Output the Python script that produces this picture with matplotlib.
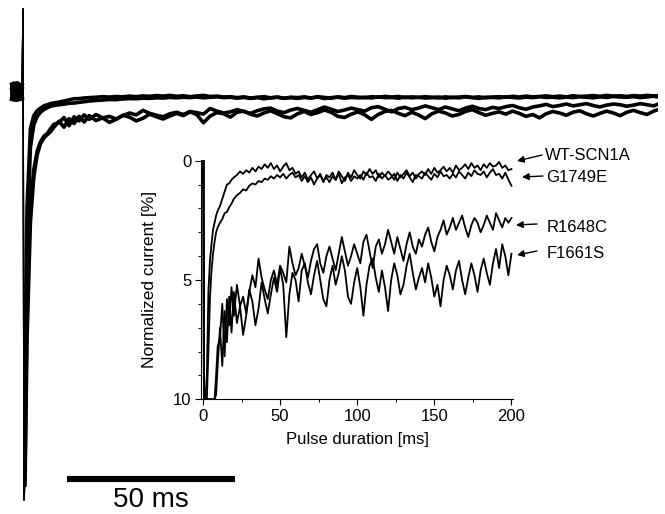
import numpy as np
import matplotlib
matplotlib.use("Agg")
import matplotlib.pyplot as plt
from matplotlib.ticker import MultipleLocator
from matplotlib.patches import FancyArrowPatch

plt.rcParams['font.family'] = ['Liberation Sans', 'DejaVu Sans']

# ---------------- data ----------------
# sample times (ms): pre-pulse, transient, then every 2 ms to the end of the pulse
t_early = [-3, -2.5, -2, -1.5, -1, -0.5, 0, 0.3, 0.6, 0.9, 1.5, 2.5, 3.5, 4.5, 5.5,
           6.5, 7.5, 8.5, 9.5, 11, 12.5, 14, 15.5, 17, 18.5, 20]
t_late = np.arange(22, 200.1, 2)
time_ms = np.concatenate([t_early, t_late])

trace_names = ["WT-SCN1A", "G1749E", "R1648C", "F1661S"]

# normalized current (% of peak), positive = inward
wt_scn1a = [-2.8, 1.2, -3.0, 0.9, -2.4, 1.1, -1.6, -23, 108, 80, 30, 9, 5.5, 4.2, 3.5,
            2.9, 2.6, 2.3, 2.1, 1.9, 1.6, 1.3, 1.0, 0.95, 0.8, 0.7,
            0.6, 0.45, 0.55, 0.4, 0.5, 0.3, 0.45, 0.25, 0.35, 0.15,
            0.3, 0.1, 0.35, 0.2, 0.45, 0.25, 0.1, 0.4, 0.3, 0.55,
            0.45, 0.7, 0.5, 0.8, 0.6, 0.45, 0.75, 0.55, 0.9, 0.6,
            0.7, 0.5, 0.8, 0.45, 0.65, 0.85, 0.5, 0.7, 0.4, 0.6,
            0.75, 0.45, 0.6, 0.35, 0.55, 0.4, 0.7, 0.5, 0.65, 0.45,
            0.6, 0.8, 0.5, 0.7, 0.55, 0.4, 0.65, 0.5, 0.75, 0.55,
            0.45, 0.6, 0.35, 0.55, 0.3, 0.5, 0.4, 0.25, 0.45, 0.3,
            0.5, 0.2, 0.4, 0.3, 0.15, 0.35, 0.1, 0.3, 0.2, 0.4,
            0.15, 0.3, 0.1, 0.25, 0.2, 0.05, 0.3, 0.2, 0.4, 0.35]

g1749e = [0.8, -3.1, 1.3, -2.6, 0.6, -2.0, 1.0, -22, 108, 90, 40, 14, 8, 5.8, 4.6,
          3.9, 3.4, 3.0, 2.8, 2.6, 2.45, 2.2, 2.15, 1.95, 1.8, 1.6,
          1.45, 1.35, 1.2, 1.25, 1.05, 0.95, 1.0, 0.85, 0.9, 0.75,
          0.8, 0.65, 0.75, 0.6, 0.7, 0.55, 0.75, 0.6, 0.5, 0.7,
          0.6, 0.85, 0.65, 0.9, 0.7, 1.0, 0.75, 0.6, 0.85, 0.7,
          0.9, 0.65, 0.8, 0.55, 0.95, 0.7, 0.6, 0.85, 0.65, 0.75,
          0.6, 0.8, 0.5, 0.7, 0.65, 0.85, 0.55, 0.75, 0.6, 0.8,
          0.7, 0.55, 0.85, 0.6, 0.75, 0.5, 0.7, 0.9, 0.6, 0.65,
          0.75, 0.5, 0.65, 0.8, 0.55, 0.7, 0.45, 0.65, 0.6, 0.75,
          0.55, 0.7, 0.45, 0.6, 0.75, 0.5, 0.65, 0.4, 0.55, 0.6,
          0.45, 0.7, 0.5, 0.35, 0.6, 0.55, 0.75, 0.5, 0.8, 1.05]

r1648c = [-1.5, 1.0, -2.2, 1.3, -3.0, 0.4, -2.6, -22, 108, 100, 55, 30, 20, 15, 12.5,
          11, 10.3, 9.0, 7.8, 7.4, 6.0, 8.2, 5.8, 6.9, 5.3, 6.5,
          5.2, 6.1, 5.7, 6.4, 5.5, 4.8, 5.3, 4.1, 4.9, 5.4,
          5.8, 5.0, 4.6, 5.2, 4.4, 4.7, 5.1, 3.6, 4.3, 4.8,
          4.5, 3.9, 4.4, 4.9, 4.2, 3.7, 3.5, 4.3, 4.7, 4.0,
          3.6, 4.1, 4.6, 3.9, 3.2, 3.8, 4.4, 4.0, 3.5, 3.9,
          4.3, 3.4, 3.1, 3.8, 4.5, 3.6, 3.3, 3.9, 3.5, 2.9,
          3.4, 3.9, 3.2, 3.7, 4.2, 3.5, 3.0, 3.6, 3.9, 3.3,
          3.6, 3.1, 2.8, 3.4, 3.8, 3.2, 2.9, 2.5, 3.1, 2.8,
          2.4, 2.9, 2.6, 2.3, 2.8, 3.2, 2.7, 2.4, 2.6, 3.0,
          2.7, 2.3, 2.6, 2.9, 2.2, 2.5, 2.8, 2.4, 2.6, 2.4]

f1661s = [1.1, -2.7, 0.6, -3.2, 1.2, -1.4, 0.5, -23, 108, 104, 65, 34, 22, 16, 13,
          11.5, 10.6, 9.8, 8.6, 7.0, 8.6, 6.3, 7.6, 5.7, 7.2, 5.5,
          6.8, 6.1, 7.3, 6.5, 5.4, 5.9, 6.9, 6.2, 5.1, 5.8,
          6.4, 5.6, 4.9, 5.5, 4.5, 5.2, 7.4, 5.6, 4.7, 5.0,
          5.9, 4.6, 4.3, 5.1, 5.6, 4.8, 4.2, 5.0, 5.8, 6.1,
          5.0, 4.4, 5.2, 4.7, 4.0, 4.6, 5.7, 6.0, 5.1, 4.5,
          5.3, 6.5, 5.2, 4.4, 4.1, 4.9, 5.5, 4.6, 5.3, 6.3,
          5.0, 4.3, 4.8, 5.6, 5.2, 4.4, 3.9, 4.7, 5.4, 4.9,
          4.5, 5.1, 4.3, 4.9, 5.7, 5.2, 6.1, 5.0, 4.4, 4.8,
          5.4, 4.6, 4.2, 5.0, 5.6, 4.9, 4.3, 4.8, 5.5, 4.6,
          4.1, 4.7, 5.2, 4.3, 3.7, 4.5, 3.5, 4.0, 4.8, 3.9]

traces = [np.array(wt_scn1a), np.array(g1749e), np.array(r1648c), np.array(f1661s)]

scale_bar_ms = 50
inset_xticks = [0, 50, 100, 150, 200]
inset_yticks = [0, 5, 10]

# ---------------- layout ----------------
W, H = 665, 514
fig = plt.figure(figsize=(W / 100, H / 100), dpi=100)
fig.patch.set_facecolor('white')

def fx(px):
    return px / W

def fy(py):
    return 1 - py / H

# main panel (whole recording, no axes)
ax = fig.add_axes([0, 0, fx(658), 1])
ax.set_xlim(-22 / 3.36, (658 - 22) / 3.36)
ax.set_ylim((514 - 95) / 3.75, -95 / 3.75)
ax.axis('off')
pre = time_ms <= 0.0
spike = (time_ms >= 0.0) & (time_ms <= 0.9)
post = time_ms >= 0.9
for tr in traces:
    ax.plot(time_ms[pre], tr[pre], color='black', lw=3.0, solid_joinstyle='round')
    ax.plot(time_ms[spike], tr[spike], color='black', lw=1.0)
    ax.plot(time_ms[post], tr[post], color='black', lw=2.6, solid_joinstyle='round')

bar_x0 = (67 - 22) / 3.36
ax.plot([bar_x0, bar_x0 + scale_bar_ms], [(479 - 95) / 3.75] * 2, color='black',
        lw=4.4, solid_capstyle='butt')
ax.text(bar_x0 + scale_bar_ms / 2, (500 - 95) / 3.75, f"{scale_bar_ms} ms",
        ha='center', va='center', fontsize=20)

# inset
ax_in = fig.add_axes([fx(201), fy(399.3), (513 - 201) / W, (399.3 - 159.5) / H])
ax_in.patch.set_alpha(0)
ax_in.set_xlim(-1.3, 201)
ax_in.set_ylim(10.0, -0.05)
for tr in traces:
    ax_in.plot(time_ms, np.clip(tr, 0, 10.0), color='black', lw=1.3)
ax_in.spines['top'].set_visible(False)
ax_in.spines['right'].set_visible(False)
for s in ('left', 'bottom'):
    ax_in.spines[s].set_linewidth(0.8)
ax_in.set_xticks(inset_xticks)
ax_in.set_yticks(inset_yticks)
ax_in.xaxis.set_minor_locator(MultipleLocator(25))
ax_in.yaxis.set_minor_locator(MultipleLocator(1))
ax_in.tick_params(which='major', direction='out', length=4, width=0.8, labelsize=12, pad=3)
ax_in.tick_params(which='minor', direction='out', length=2.5, width=0.7)
ax_in.set_xlabel("Pulse duration [ms]", fontsize=12)
ax_in.set_ylabel("Normalized current [%]", fontsize=12.5)
ax_in.xaxis.set_label_coords(0.5, -0.136)
ax_in.yaxis.set_label_coords(-0.14, 0.50)

# trace labels with arrows
label_pos = [(545, 156), (546, 177), (547, 227), (547, 254)]
arrow_tail = [(542, 155), (543, 176), (537, 224), (537, 251)]
arrow_head = [(517, 161), (522, 177), (516, 225), (517, 255)]
for name, lp, tl, hd in zip(trace_names, label_pos, arrow_tail, arrow_head):
    fig.text(fx(lp[0]), fy(lp[1]), name, ha='left', va='center', fontsize=12)
    fig.add_artist(FancyArrowPatch((fx(tl[0]), fy(tl[1])), (fx(hd[0]), fy(hd[1])),
                                   transform=fig.transFigure, arrowstyle='-|>',
                                   mutation_scale=10, lw=1.0, color='black',
                                   shrinkA=0, shrinkB=0))

fig.savefig('out.png', dpi=100, facecolor='white')
